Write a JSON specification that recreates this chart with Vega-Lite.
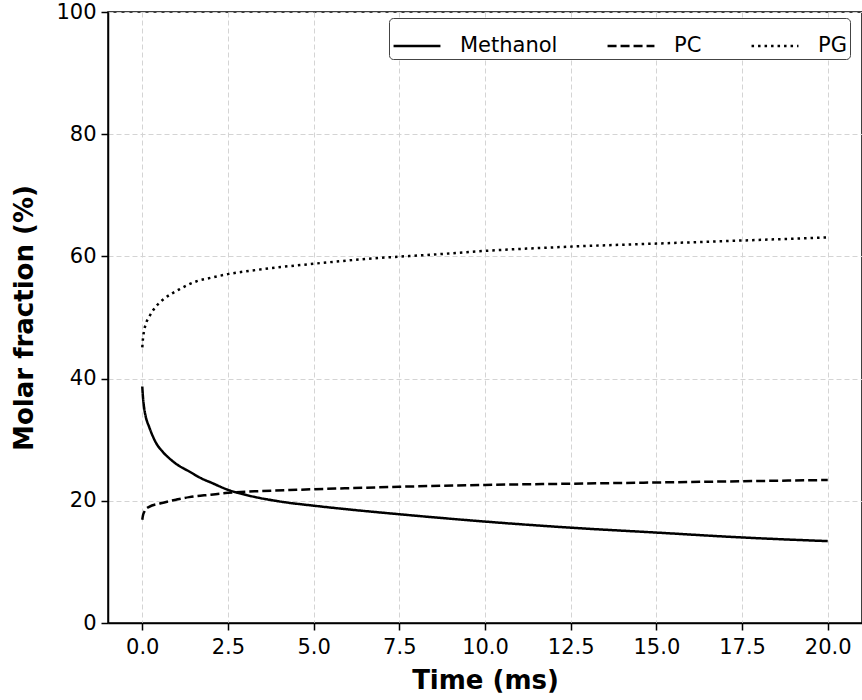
{
  "$schema": "https://vega.github.io/schema/vega-lite/v6.json",
  "width": 754,
  "height": 611,
  "autosize": {"type": "none"},
  "padding": {"left": 108, "top": 12, "right": 0, "bottom": 77},
  "config": {
    "font": "DejaVu Sans",
    "view": {"stroke": "#000", "strokeWidth": 1.5},
    "axis": {
      "domainColor": "#000", "domainWidth": 1.5,
      "tickColor": "#000", "tickWidth": 1.5, "tickSize": 7,
      "labelFontSize": 21, "labelColor": "#000", "labelFont": "DejaVu Sans",
      "titleFontSize": 26, "titleFontWeight": "bold", "titleColor": "#000", "titleFont": "DejaVu Sans",
      "gridColor": "#d4d4d4", "gridDash": [5, 3], "gridWidth": 1
    }
  },
  "data": {"values": [
    {"t": 0, "v": 38.7, "s": "Methanol"},
    {"t": 0.02, "v": 37.0, "s": "Methanol"},
    {"t": 0.06, "v": 35.0, "s": "Methanol"},
    {"t": 0.1, "v": 33.8, "s": "Methanol"},
    {"t": 0.2, "v": 32.1, "s": "Methanol"},
    {"t": 0.4, "v": 29.5, "s": "Methanol"},
    {"t": 0.6, "v": 28.0, "s": "Methanol"},
    {"t": 0.8, "v": 26.9, "s": "Methanol"},
    {"t": 1.0, "v": 26.0, "s": "Methanol"},
    {"t": 1.37, "v": 24.8, "s": "Methanol"},
    {"t": 1.75, "v": 23.6, "s": "Methanol"},
    {"t": 2.0, "v": 23.0, "s": "Methanol"},
    {"t": 2.5, "v": 21.8, "s": "Methanol"},
    {"t": 3.0, "v": 21.0, "s": "Methanol"},
    {"t": 4.0, "v": 19.9, "s": "Methanol"},
    {"t": 5.0, "v": 19.2, "s": "Methanol"},
    {"t": 6.0, "v": 18.6, "s": "Methanol"},
    {"t": 7.5, "v": 17.8, "s": "Methanol"},
    {"t": 10, "v": 16.6, "s": "Methanol"},
    {"t": 12.5, "v": 15.6, "s": "Methanol"},
    {"t": 15, "v": 14.8, "s": "Methanol"},
    {"t": 17.5, "v": 14.0, "s": "Methanol"},
    {"t": 20, "v": 13.4, "s": "Methanol"},
    {"t": 0, "v": 16.9, "s": "PC"},
    {"t": 0.02, "v": 17.6, "s": "PC"},
    {"t": 0.06, "v": 18.2, "s": "PC"},
    {"t": 0.1, "v": 18.6, "s": "PC"},
    {"t": 0.2, "v": 19.0, "s": "PC"},
    {"t": 0.54, "v": 19.6, "s": "PC"},
    {"t": 1.0, "v": 20.2, "s": "PC"},
    {"t": 1.37, "v": 20.6, "s": "PC"},
    {"t": 2.0, "v": 21.0, "s": "PC"},
    {"t": 2.5, "v": 21.3, "s": "PC"},
    {"t": 3.5, "v": 21.6, "s": "PC"},
    {"t": 4.5, "v": 21.8, "s": "PC"},
    {"t": 5.64, "v": 22.0, "s": "PC"},
    {"t": 7.5, "v": 22.3, "s": "PC"},
    {"t": 10, "v": 22.6, "s": "PC"},
    {"t": 12.5, "v": 22.8, "s": "PC"},
    {"t": 15, "v": 23.0, "s": "PC"},
    {"t": 17.5, "v": 23.2, "s": "PC"},
    {"t": 20, "v": 23.4, "s": "PC"},
    {"t": 0, "v": 45.1, "s": "PG"},
    {"t": 0.02, "v": 46.5, "s": "PG"},
    {"t": 0.06, "v": 48.0, "s": "PG"},
    {"t": 0.1, "v": 48.9, "s": "PG"},
    {"t": 0.2, "v": 50.1, "s": "PG"},
    {"t": 0.4, "v": 51.8, "s": "PG"},
    {"t": 0.6, "v": 52.9, "s": "PG"},
    {"t": 1.08, "v": 54.6, "s": "PG"},
    {"t": 1.57, "v": 55.9, "s": "PG"},
    {"t": 2.0, "v": 56.5, "s": "PG"},
    {"t": 2.5, "v": 57.1, "s": "PG"},
    {"t": 3.5, "v": 57.9, "s": "PG"},
    {"t": 5.0, "v": 58.8, "s": "PG"},
    {"t": 6.8, "v": 59.7, "s": "PG"},
    {"t": 8.5, "v": 60.3, "s": "PG"},
    {"t": 10, "v": 60.9, "s": "PG"},
    {"t": 12.5, "v": 61.6, "s": "PG"},
    {"t": 15, "v": 62.1, "s": "PG"},
    {"t": 17.5, "v": 62.6, "s": "PG"},
    {"t": 20, "v": 63.1, "s": "PG"}
  ]},
  "mark": {"type": "line", "color": "#000", "strokeWidth": 2.5, "strokeCap": "butt", "interpolate": "monotone"},
  "encoding": {
    "x": {
      "field": "t", "type": "quantitative",
      "scale": {"domain": [-1, 21], "nice": false, "zero": false},
      "axis": {"title": "Time (ms)", "values": [0, 2.5, 5, 7.5, 10, 12.5, 15, 17.5, 20], "format": ".1f", "labelPadding": 6, "titlePadding": 10}
    },
    "y": {
      "field": "v", "type": "quantitative",
      "scale": {"domain": [0, 100], "nice": false},
      "axis": {"title": "Molar fraction (%)", "values": [0, 20, 40, 60, 80, 100], "labelPadding": 5, "titlePadding": 18}
    },
    "strokeDash": {
      "field": "s", "type": "nominal",
      "scale": {"domain": ["Methanol", "PC", "PG"], "range": [[1, 0], [9, 4], [2.5, 4]]},
      "legend": {
        "title": null,
        "orient": "none",
        "legendX": 281,
        "legendY": 6,
        "direction": "horizontal",
        "symbolType": "stroke",
        "symbolSize": 2200,
        "symbolStrokeWidth": 2.5,
        "symbolStrokeColor": "#000",
        "labelFontSize": 21,
        "labelColor": "#000",
        "labelFont": "DejaVu Sans",
        "labelOffset": 18,
        "columnPadding": 44,
        "padding": 3,
        "strokeColor": "#444",
        "fillColor": "#fff",
        "cornerRadius": 4
      }
    }
  }
}
